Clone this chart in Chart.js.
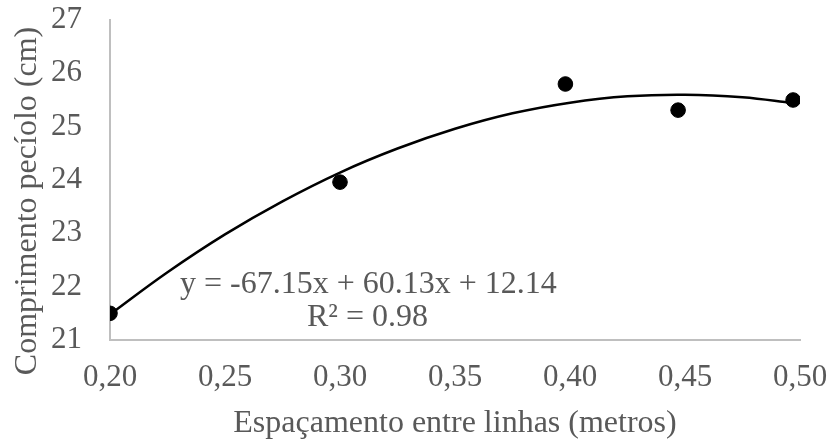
<!DOCTYPE html>
<html>
<head>
<meta charset="utf-8">
<script src="https://cdn.jsdelivr.net/npm/chart.js@4/dist/chart.umd.min.js"></script>
<style>
  html, body { margin: 0; padding: 0; background: #fff; }
  #chart { display: block; }
</style>
</head>
<body>
<canvas id="chart" width="832" height="439"></canvas>
<script>
const espacamento = [0.20, 0.30, 0.398, 0.447, 0.497];
const comprimento = [21.5, 23.96, 25.8, 25.31, 25.5];

// Trendline
const trendX = [0.200, 0.225, 0.250, 0.275, 0.300, 0.325, 0.350, 0.375, 0.400, 0.425, 0.450, 0.475, 0.497];
const trendY = [21.48, 22.27, 22.98, 23.60, 24.14, 24.59, 24.96, 25.25, 25.45, 25.57, 25.60, 25.55, 25.44];

const xTicks = [0.20, 0.25, 0.30, 0.35, 0.40, 0.45, 0.50];
const yTicks = [21, 22, 23, 24, 25, 26, 27];

const xTitle = 'Espaçamento entre linhas (metros)';
const yTitle = 'Comprimento pecíolo (cm)';
const equationLines = ['y = -67.15x + 60.13x + 12.14', 'R² = 0.98'];

const textColor = '#595959';
const axisColor = '#bfbfbf';
const fontFamily = '"Liberation Serif", "Times New Roman", serif';

// Axis titles and trendline label
const chartText = {
    id: 'chartText',
    afterDatasetsDraw(chart) {
        const ctx = chart.ctx;
        const area = chart.chartArea;
        ctx.save();
        ctx.fillStyle = textColor;
        ctx.font = '32px ' + fontFamily;

        // equation
        ctx.textAlign = 'left';
        ctx.textBaseline = 'alphabetic';
        ctx.fillText(equationLines[0], 180, 293);
        ctx.fillText(equationLines[1], 307, 326);

        // x title
        ctx.textAlign = 'center';
        ctx.fillText(xTitle, (area.left + area.right) / 2, 432);

        // y title
        ctx.translate(28, 201);
        ctx.rotate(-Math.PI / 2);
        ctx.textBaseline = 'middle';
        ctx.fillText(yTitle, 0, 0);
        ctx.restore();
    }
};

const ctx = document.getElementById('chart').getContext('2d');
new Chart(ctx, {
    type: 'scatter',
    data: {
        datasets: [
            {
                label: 'Tendência',
                type: 'line',
                data: trendX.map((x, i) => ({ x: x, y: trendY[i] })),
                borderColor: '#000',
                borderWidth: 2.5,
                pointRadius: 0,
                tension: 0.4,
                fill: false,
                order: 2
            },
            {
                label: 'Comprimento',
                data: espacamento.map((x, i) => ({ x: x, y: comprimento[i] })),
                backgroundColor: '#000',
                borderColor: '#000',
                pointRadius: 7.3,
                pointHoverRadius: 7.3,
                order: 1
            }
        ]
    },
    options: {
        responsive: false,
        animation: false,
        layout: { padding: { top: 20, right: 32, left: 0, bottom: 0 } },
        plugins: {
            legend: { display: false },
            tooltip: { enabled: false }
        },
        scales: {
            x: {
                type: 'linear',
                min: 0.2,
                max: 0.5,
                afterBuildTicks: (axis) => { axis.ticks = xTicks.map(v => ({ value: v })); },
                afterFit: (axis) => {
                    axis.height = 99;
                    axis.paddingLeft = 0;
                    axis.paddingRight = 0;
                },
                grid: { display: false, drawTicks: false },
                border: { color: axisColor, width: 2 },
                ticks: {
                    color: textColor,
                    padding: 19,
                    maxRotation: 0,
                    font: { family: fontFamily, size: 31 },
                    callback: (v) => v.toFixed(2).replace('.', ',')
                }
            },
            y: {
                min: 21,
                max: 27,
                afterBuildTicks: (axis) => { axis.ticks = yTicks.map(v => ({ value: v })); },
                afterFit: (axis) => {
                    axis.width = 110;
                    axis.paddingTop = 0;
                    axis.paddingBottom = 0;
                },
                grid: { display: false, drawTicks: false },
                border: { color: axisColor, width: 2 },
                ticks: {
                    color: textColor,
                    padding: 28,
                    font: { family: fontFamily, size: 31 }
                }
            }
        }
    },
    plugins: [chartText]
});
</script>
</body>
</html>
